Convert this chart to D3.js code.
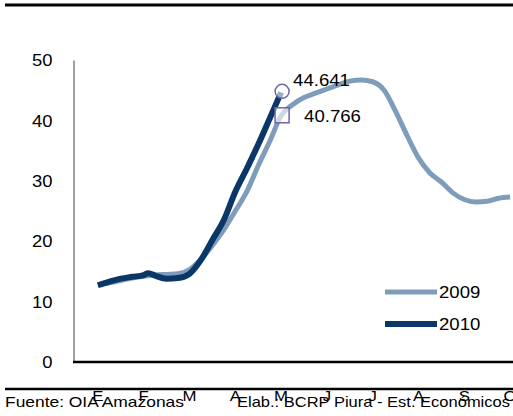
<!DOCTYPE html>
<html>
<head>
    <meta charset="UTF-8">
    <title>Serie semanal 2009 - 2010</title>
    <style>
        body { margin: 0; background: #fff; }
        svg { display: block; font-family: "Liberation Sans", Arial, sans-serif; }
        .tick-label { font-size: 16px; fill: #000; }
        .month-label { font-size: 15px; fill: #000; }
        .footer { font-size: 15px; fill: #000; }
    </style>
    <script src="https://d3js.org/d3.v7.min.js"></script>
</head>
<body>
<div id="chart"></div>
<script>
    // month labels (E = enero ... O = octubre)
    const months = ["E", "F", "M", "A", "M", "J", "J", "A", "S", "O"];
    const yTicks = [0, 10, 20, 30, 40, 50];

    // weekly readings, position in months (0 = E)
    const weeks2009 = [0, 0.25, 0.5, 0.75, 1, 1.25, 1.5, 1.75, 2, 2.25, 2.5, 2.75, 3, 3.25, 3.5, 3.75, 4,
        4.25, 4.5, 4.75, 5, 5.25, 5.5, 5.75, 6, 6.25, 6.5, 6.75, 7, 7.25, 7.5, 7.75, 8, 8.25, 8.5, 8.75, 9];
    const values2009 = [12.8, 13.1, 13.5, 13.9, 14.2, 14.4, 14.5, 14.6, 15.3, 17.0, 19.3, 21.9, 25.0, 28.2, 32.5, 36.5, 40.766,
        42.6, 43.8, 44.5, 45.2, 45.9, 46.5, 46.7, 46.4, 45.0, 41.5, 37.5, 33.8, 31.3, 29.8, 28.0, 26.9, 26.5, 26.6, 27.1, 27.3];

    const weeks2010 = [0, 0.25, 0.5, 0.75, 1, 1.1, 1.25, 1.5, 1.75, 2, 2.25, 2.5, 2.75, 3, 3.25, 3.5, 3.75, 4];
    const values2010 = [12.7, 13.3, 13.8, 14.1, 14.4, 14.7, 14.3, 13.8, 13.9, 14.6, 16.9, 20.2, 23.5, 28.2, 32.0, 36.0, 40.3, 44.641];

    const lastLabels = ["44.641", "40.766"];

    const W = 513, H = 416;
    const svg = d3.select("#chart").append("svg")
        .attr("width", W)
        .attr("height", H);

    const x = d3.scaleLinear().domain([-0.5, 9.5]).range([75, 533]);
    const y = d3.scaleLinear().domain([0, 50]).range([362, 60]);

    // the original picture is a bit wider than tall, so text gets stretched
    function stretch(sel, k) {
        sel.each(function() {
            const len = this.getComputedTextLength();
            d3.select(this).attr("textLength", len * k).attr("lengthAdjust", "spacingAndGlyphs");
        });
    }

    // top rule
    svg.append("line")
        .attr("x1", 5).attr("x2", W).attr("y1", 5).attr("y2", 5)
        .attr("stroke", "#000").attr("stroke-width", 3);

    // Y axis
    const yAxis = svg.append("g")
        .attr("transform", "translate(73.5,0)")
        .call(d3.axisLeft(y).tickValues(yTicks).tickSize(0).tickPadding(21));
    yAxis.select(".domain").attr("stroke", "#808080").attr("stroke-width", 1.5);
    yAxis.selectAll("text").attr("class", "tick-label").attr("dy", "0.36em")
        .call(stretch, 1.15);

    // X axis line
    svg.append("line")
        .attr("x1", 73).attr("x2", W).attr("y1", 362).attr("y2", 362)
        .attr("stroke", "#000").attr("stroke-width", 2.5);

    // lines
    const line = d3.line()
        .x(d => x(d[0]))
        .y(d => y(d[1]))
        .curve(d3.curveMonotoneX);

    svg.append("path")
        .datum(d3.zip(weeks2009, values2009))
        .attr("fill", "none")
        .attr("stroke", "#7f9dbb")
        .attr("stroke-width", 5)
        .attr("stroke-linejoin", "round")
        .attr("d", line);

    svg.append("path")
        .datum(d3.zip(weeks2010, values2010))
        .attr("fill", "none")
        .attr("stroke", "#0b3668")
        .attr("stroke-width", 6)
        .attr("stroke-linejoin", "round")
        .attr("d", line);

    // end markers
    const last2010 = [weeks2010[weeks2010.length - 1], values2010[values2010.length - 1]];
    const mark2009 = [4, values2009[weeks2009.indexOf(4)]];

    svg.append("circle")
        .attr("cx", x(last2010[0]) + 1)
        .attr("cy", y(last2010[1]) - 1)
        .attr("r", 7)
        .attr("fill", "#fff").attr("fill-opacity", 0.6)
        .attr("stroke", "#6e66a8").attr("stroke-width", 1.5);

    svg.append("rect")
        .attr("x", x(mark2009[0]) - 6)
        .attr("y", y(mark2009[1]) - 8)
        .attr("width", 14).attr("height", 15)
        .attr("fill", "#fff").attr("fill-opacity", 0.6)
        .attr("stroke", "#6e66a8").attr("stroke-width", 1.5);

    svg.append("text")
        .attr("class", "tick-label")
        .attr("x", x(last2010[0]) + 12)
        .attr("y", y(last2010[1]) - 6)
        .text(lastLabels[0])
        .call(stretch, 1.16);

    svg.append("text")
        .attr("class", "tick-label")
        .attr("x", x(mark2009[0]) + 23)
        .attr("y", y(mark2009[1]) + 6)
        .text(lastLabels[1])
        .call(stretch, 1.16);

    // legend
    const legend = [
        {name: "2009", color: "#7f9dbb", w: 5, y: 292},
        {name: "2010", color: "#0b3668", w: 6, y: 324}
    ];
    legend.forEach(l => {
        svg.append("line")
            .attr("x1", 385).attr("x2", 437).attr("y1", l.y).attr("y2", l.y)
            .attr("stroke", l.color).attr("stroke-width", l.w);
        svg.append("text")
            .attr("class", "tick-label")
            .attr("x", 439).attr("y", l.y + 6)
            .text(l.name)
            .call(stretch, 1.16);
    });

    // bottom rule
    svg.append("line")
        .attr("x1", 5).attr("x2", W).attr("y1", 389).attr("y2", 389)
        .attr("stroke", "#000").attr("stroke-width", 2.5);

    // month labels
    svg.selectAll(".month-label")
        .data(months)
        .enter()
        .append("text")
            .attr("class", "month-label")
            .attr("text-anchor", "middle")
            .attr("x", (d, i) => x(i))
            .attr("y", 401)
            .text(d => d)
            .call(stretch, 1.12);

    // footer
    svg.append("text")
        .attr("class", "footer")
        .attr("x", 5).attr("y", 407)
        .text("Fuente: OIA Amazonas")
        .call(stretch, 1.16);
    svg.append("text")
        .attr("class", "footer")
        .attr("x", 237).attr("y", 407)
        .text("Elab.: BCRP Piura - Est. Económicos")
        .call(stretch, 1.1);
</script>
</body>
</html>
